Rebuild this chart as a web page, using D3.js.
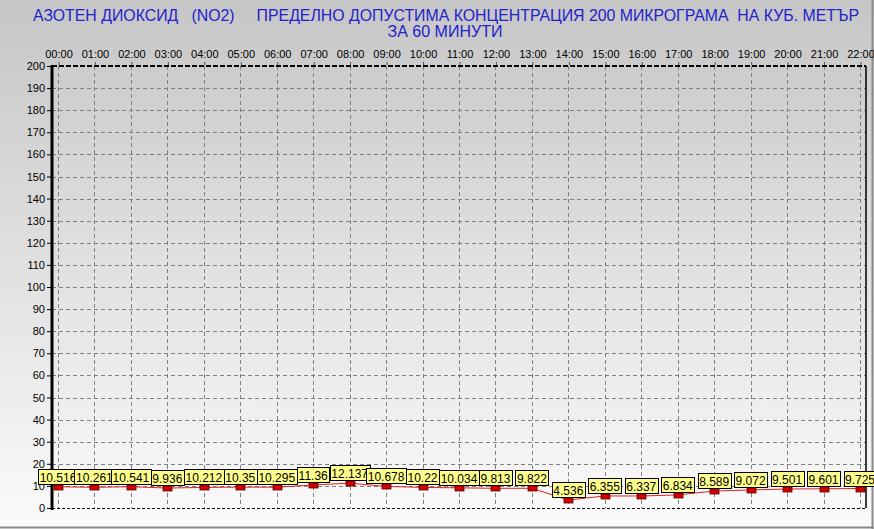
<!DOCTYPE html>
<html><head><meta charset="utf-8">
<script src="https://cdn.jsdelivr.net/npm/d3@7"></script>
<style>body{margin:0;padding:0;overflow:hidden}svg{display:block}</style>
</head><body>
<script>
const categories = ["00:00","01:00","02:00","03:00","04:00","05:00","06:00","07:00","08:00","09:00","10:00","11:00","12:00","13:00","14:00","15:00","16:00","17:00","18:00","19:00","20:00","21:00","22:00"];
const values = [10.516,10.261,10.541,9.936,10.212,10.35,10.295,11.36,12.137,10.678,10.22,10.034,9.813,9.822,4.536,6.355,6.337,6.834,8.589,9.072,9.501,9.601,9.725];
const valueLabels = ["10.516","10.261","10.541","9.936","10.212","10.35","10.295","11.36","12.137","10.678","10.22","10.034","9.813","9.822","4.536","6.355","6.337","6.834","8.589","9.072","9.501","9.601","9.725"];
const yTicks = d3.range(0, 201, 10);
const titleLine1 = "АЗОТЕН ДИОКСИД   (NO2)     ПРЕДЕЛНО ДОПУСТИМА КОНЦЕНТРАЦИЯ 200 МИКРОГРАМА  НА КУБ. МЕТЪР";
const titleLine2 = "ЗА 60 МИНУТИ";

const W = 874, H = 529;
const L = 52, R = 866, T = 66, B = 508;
const font = "'Liberation Sans', Arial, sans-serif";

const svg = d3.select("body").append("svg").attr("width", W).attr("height", H);
const defs = svg.append("defs");
const g1 = defs.append("linearGradient").attr("id","bg").attr("x1",0).attr("y1",0).attr("x2",0).attr("y2",1);
g1.append("stop").attr("offset","0%").attr("stop-color","#c6c6c6");
g1.append("stop").attr("offset","100%").attr("stop-color","#fbfbfb");
svg.append("rect").attr("width",W).attr("height",H).attr("fill","url(#bg)");
svg.append("line").attr("x1",0).attr("x2",W).attr("y1",H-1.5).attr("y2",H-1.5).attr("stroke","#8a8a8a").attr("stroke-width",2);
svg.append("line").attr("x1",W-1.5).attr("x2",W-1.5).attr("y1",0).attr("y2",H).attr("stroke","#8a8a8a").attr("stroke-width",2);

const x = d3.scalePoint().domain(categories).range([58, 860]);
const y = d3.scaleLinear().domain([0,200]).range([B, T]);

// title
svg.append("text").attr("x",446).attr("y",21).attr("text-anchor","middle")
  .attr("font-family",font).attr("font-size",16).attr("fill","#2222cc")
  .attr("textLength",826).attr("lengthAdjust","spacingAndGlyphs")
  .attr("xml:space","preserve").style("white-space","pre").text(titleLine1);
svg.append("text").attr("x",445).attr("y",37).attr("text-anchor","middle")
  .attr("font-family",font).attr("font-size",16).attr("fill","#2222cc").text(titleLine2);

// grid
const grid = svg.append("g").attr("stroke","#808080").attr("stroke-dasharray","4,3").attr("stroke-width",1);
yTicks.filter(d=>d>0 && d<200).forEach(d=>{
  grid.append("line").attr("x1",L).attr("x2",R).attr("y1",Math.round(y(d))+0.5).attr("y2",Math.round(y(d))+0.5);
});
categories.forEach(c=>{
  grid.append("line").attr("x1",Math.round(x(c))+0.5).attr("x2",Math.round(x(c))+0.5).attr("y1",T).attr("y2",B);
});

// frame
svg.append("line").attr("x1",L).attr("x2",R).attr("y1",T).attr("y2",T).attr("stroke","#000").attr("stroke-width",2).attr("stroke-dasharray","5,2");
svg.append("line").attr("x1",L).attr("x2",R).attr("y1",B+0.5).attr("y2",B+0.5).attr("stroke","#000").attr("stroke-width",1).attr("stroke-dasharray","3,2");
svg.append("line").attr("x1",R).attr("x2",R).attr("y1",T).attr("y2",B).attr("stroke","#000").attr("stroke-width",1.5);

// y axis
const yAxis = d3.axisLeft(y).tickValues(yTicks).tickSize(4).tickPadding(2).tickFormat(d3.format("d"));
const ya = svg.append("g").attr("transform",`translate(${L-1},0)`).call(yAxis);
ya.select(".domain").remove();
ya.selectAll("text").attr("font-family",font).attr("font-size",11).attr("fill","#000");
ya.selectAll("line").attr("stroke","#000");
svg.append("line").attr("x1",L).attr("x2",L).attr("y1",T-1).attr("y2",B+2).attr("stroke","#000").attr("stroke-width",3);

// top x axis
const xAxis = d3.axisTop(x).tickSize(3).tickPadding(4);
const xa = svg.append("g").attr("transform",`translate(0.5,${T-1})`).call(xAxis);
xa.select(".domain").remove();
xa.selectAll("text").attr("font-family",font).attr("font-size",11).attr("fill","#000");
xa.selectAll("line").attr("stroke","#555");

// line
const pts = categories.map((c,i)=>[x(c), y(values[i])+2]);
svg.append("path").attr("d", d3.line()(pts)).attr("fill","none").attr("stroke","#dd2222").attr("stroke-width",1);

// markers
svg.append("g").selectAll("rect").data(values).join("rect")
  .attr("x",(d,i)=>Math.round(x(categories[i]))-4)
  .attr("y",d=>Math.round(y(d)))
  .attr("width",9).attr("height",5)
  .attr("fill","#d40000").attr("stroke","#600000").attr("stroke-width",0.8);

// labels
const lg = svg.append("g");
values.forEach((v,i)=>{
  const cx = x(categories[i]);
  const t = lg.append("text").attr("font-family",font).attr("font-size",12).attr("fill","#000").text(valueLabels[i]);
  const w = t.node().getComputedTextLength();
  const bw = Math.round(w + 3), bh = 15;
  const bx = Math.round(cx - bw/2) + 0.5;
  const by = Math.round(y(v)) - bh - 0.5;
  lg.insert("rect", () => t.node()).attr("x",bx).attr("y",by).attr("width",bw).attr("height",bh)
    .attr("fill","#ffff8c").attr("stroke","#000").attr("stroke-width",1);
  t.attr("x",cx).attr("y",by+12).attr("text-anchor","middle");
});
</script>
</body></html>
